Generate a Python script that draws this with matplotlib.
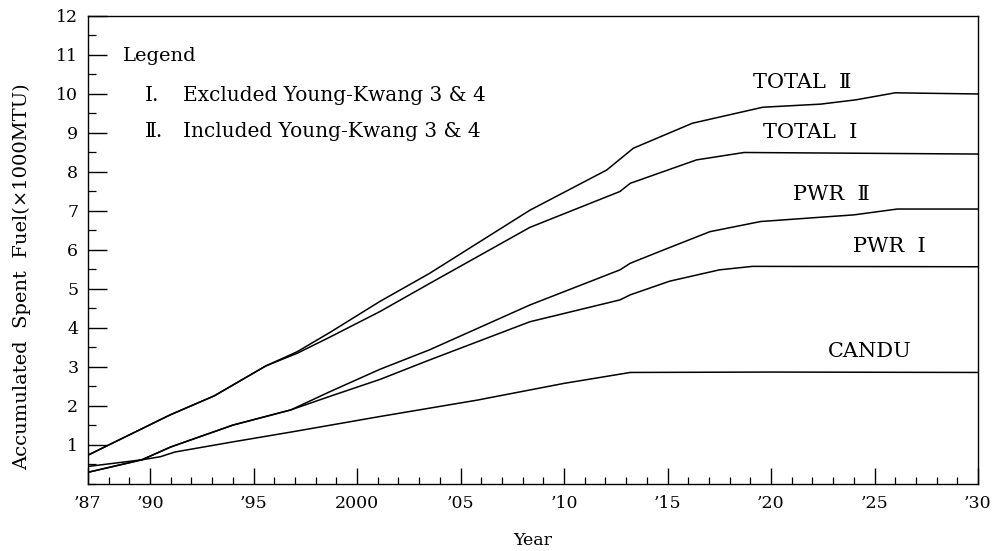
import matplotlib
matplotlib.use("Agg")
import matplotlib.pyplot as plt
from matplotlib.ticker import MultipleLocator, FixedLocator

plt.rcParams['font.family'] = ['DejaVu Serif', 'Noto Sans CJK JP']

# ---- data ----
candu_years = [1987, 1989.6, 1990.5, 1991.2, 1994.0, 1996.9, 2001.1, 2005.8, 2010.0, 2013.2, 2020, 2030]
candu_vals = [0.45, 0.62, 0.70, 0.82, 1.08, 1.34, 1.73, 2.15, 2.58, 2.86, 2.87, 2.86]

pwr1_years = [1987, 1989.6, 1991.0, 1994.0, 1996.8, 1998.7, 2001.1, 2003.5, 2008.35, 2012.7, 2013.2, 2015.1, 2017.5, 2019.1, 2030]
pwr1_vals = [0.30, 0.62, 0.95, 1.51, 1.90, 2.25, 2.68, 3.18, 4.16, 4.72, 4.85, 5.20, 5.49, 5.58, 5.57]

pwr2_years = [1987, 1989.6, 1991.0, 1994.0, 1996.8, 1998.7, 2001.1, 2003.5, 2008.35, 2012.7, 2013.2, 2014.8, 2017.05, 2019.5, 2022.4, 2024.0, 2026.1, 2030]
pwr2_vals = [0.30, 0.62, 0.95, 1.51, 1.90, 2.37, 2.94, 3.44, 4.59, 5.49, 5.66, 6.00, 6.47, 6.73, 6.84, 6.90, 7.05, 7.05]

total1_years = [1987, 1990.96, 1993.1, 1995.6, 1997.1, 1998.7, 2001.1, 2003.5, 2008.35, 2012.7, 2013.2, 2016.4, 2018.7, 2030]
total1_vals = [0.74, 1.77, 2.26, 3.03, 3.35, 3.77, 4.42, 5.14, 6.58, 7.50, 7.71, 8.31, 8.50, 8.46]

total2_years = [1987, 1990.96, 1993.1, 1995.6, 1997.1, 1998.7, 2001.1, 2003.5, 2008.35, 2012.06, 2013.35, 2016.2, 2019.6, 2022.4, 2024.1, 2026.0, 2030]
total2_vals = [0.74, 1.77, 2.26, 3.03, 3.39, 3.89, 4.68, 5.40, 7.02, 8.05, 8.61, 9.25, 9.66, 9.74, 9.85, 10.03, 10.00]

series_labels = ["TOTAL  Ⅱ", "TOTAL  Ⅰ", "PWR  Ⅱ", "PWR  Ⅰ", "CANDU"]
label_pos = [(2021.5, 10.3), (2021.9, 9.0), (2022.9, 7.41), (2025.7, 6.08), (2024.75, 3.39)]

xtick_vals = [1987, 1990, 1995, 2000, 2005, 2010, 2015, 2020, 2025, 2030]
xtick_labels = ["’87", "’90", "’95", "2000", "’05", "’10", "’15", "’20", "’25", "’30"]
ytick_vals = list(range(1, 13))

legend_title = "Legend"
legend_nums = ["Ⅰ.", "Ⅱ."]
legend_descs = ["Excluded Young-Kwang 3 & 4", "Included Young-Kwang 3 & 4"]

# ---- figure ----
fig = plt.figure(figsize=(10, 5.51), dpi=100)
ax = fig.add_axes([0.088, 0.1216, 0.890, 0.8494])

lw = 1.1
for xs, ys in [(candu_years, candu_vals), (pwr1_years, pwr1_vals), (pwr2_years, pwr2_vals),
               (total1_years, total1_vals), (total2_years, total2_vals)]:
    ax.plot(xs, ys, color='black', lw=lw, solid_joinstyle='round')

ax.set_xlim(1987, 2030)
ax.set_ylim(0, 12)

ax.xaxis.set_major_locator(FixedLocator(xtick_vals))
ax.set_xticklabels(xtick_labels)
ax.xaxis.set_minor_locator(MultipleLocator(1))
ax.yaxis.set_major_locator(FixedLocator(ytick_vals))
ax.yaxis.set_minor_locator(MultipleLocator(0.5))

ax.tick_params(axis='x', which='major', direction='in', length=11.5, width=1.0, labelsize=12.5, pad=8, top=False)
ax.tick_params(axis='x', which='minor', direction='in', length=5, width=0.9, top=False)
ax.tick_params(axis='y', which='major', direction='in', length=13.5, width=1.0, labelsize=12.5, pad=7, right=False)
ax.tick_params(axis='y', which='minor', direction='in', length=5.5, width=0.9, right=False)

for s in ax.spines.values():
    s.set_linewidth(1.0)

ax.set_ylabel("Accumulated  Spent  Fuel(×1000MTU)", fontsize=14)
ax.yaxis.set_label_coords(-0.064, 0.444)
ax.set_xlabel("Year", fontsize=12.5, labelpad=14)

for txt, (x, y) in zip(series_labels, label_pos):
    ax.text(x, y, txt, fontsize=15, ha='center', va='center')

ax.text(1988.7, 10.97, legend_title, fontsize=14, ha='left', va='center')
for i, (num, desc) in enumerate(zip(legend_nums, legend_descs)):
    yv = 9.97 - i * 0.94
    ax.text(1989.75, yv, num, fontsize=14.5, ha='left', va='center')
    ax.text(1991.6, yv, desc, fontsize=14.5, ha='left', va='center')

fig.savefig("out.png", dpi=100)
